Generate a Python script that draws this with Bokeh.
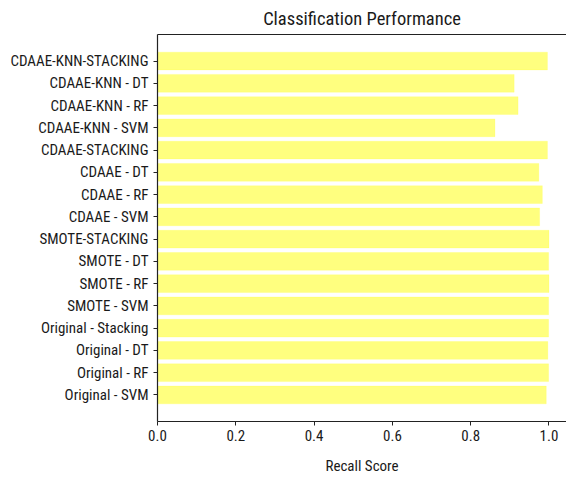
from bokeh.plotting import figure
from bokeh.models import Range1d, FactorRange, LinearAxis, FixedTicker, NumeralTickFormatter
from bokeh.embed import file_html
from bokeh.resources import INLINE

# Data (top to bottom as shown in the chart)
labels = ["CDAAE-KNN-STACKING", "CDAAE-KNN - DT", "CDAAE-KNN - RF", "CDAAE-KNN - SVM",
          "CDAAE-STACKING", "CDAAE - DT", "CDAAE - RF", "CDAAE - SVM",
          "SMOTE-STACKING", "SMOTE - DT", "SMOTE - RF", "SMOTE - SVM",
          "Original - Stacking", "Original - DT", "Original - RF", "Original - SVM"]
recall = [0.996, 0.911, 0.921, 0.862,
          0.996, 0.974, 0.983, 0.976,
          1.0, 0.999, 1.0, 0.999,
          0.999, 0.997, 0.999, 0.993]
x_ticks = [0.0, 0.2, 0.4, 0.6, 0.8, 1.0]

FONT = "Roboto Condensed"
factors = list(reversed(labels))

p = figure(width=566, height=477, output_backend="svg", toolbar_location=None,
           x_range=Range1d(0, 1.0447),
           y_range=FactorRange(factors=factors, range_padding=0.0865, range_padding_units="percent"),
           min_border_left=157, min_border_right=0, min_border_top=10, min_border_bottom=55)

p.hbar(y=labels, right=recall, left=0, height=0.8,
       fill_color="yellow", fill_alpha=0.5, line_color="yellow", line_alpha=0.15)

p.title.text = "Classification Performance"
p.title.align = "center"
p.title.text_font = FONT
p.title.text_font_size = "18.5px"
p.title.text_font_style = "normal"
p.title.text_color = "#1a1a1a"

p.xgrid.visible = False
p.ygrid.visible = False
p.outline_line_color = None
p.background_fill_color = "white"
p.border_fill_color = "white"

for ax in (p.xaxis[0], p.yaxis[0]):
    ax.axis_line_color = "#222222"
    ax.axis_line_width = 1.2
    ax.major_tick_line_color = "#222222"
    ax.major_tick_in = 0
    ax.major_tick_out = 4
    ax.minor_tick_line_color = None
    ax.major_label_text_font = FONT
    ax.major_label_text_font_size = "15px"
    ax.major_label_text_color = "#1a1a1a"

p.xaxis[0].ticker = FixedTicker(ticks=x_ticks)
p.xaxis[0].formatter = NumeralTickFormatter(format="0.0")
p.xaxis[0].axis_label = "Recall Score"
p.xaxis[0].axis_label_text_font = FONT
p.xaxis[0].axis_label_text_font_size = "15px"
p.xaxis[0].axis_label_text_font_style = "normal"
p.xaxis[0].axis_label_text_color = "#1a1a1a"
p.xaxis[0].axis_label_standoff = 13
p.xaxis[0].major_label_standoff = 4
p.yaxis[0].major_label_standoff = 5

top = LinearAxis(ticker=FixedTicker(ticks=[]), major_label_text_font_size="0px",
                 major_tick_line_color=None, minor_tick_line_color=None,
                 axis_line_color="#222222", axis_line_width=1.2)
p.add_layout(top, "above")

open("out.html", "w").write(file_html(p, INLINE))
